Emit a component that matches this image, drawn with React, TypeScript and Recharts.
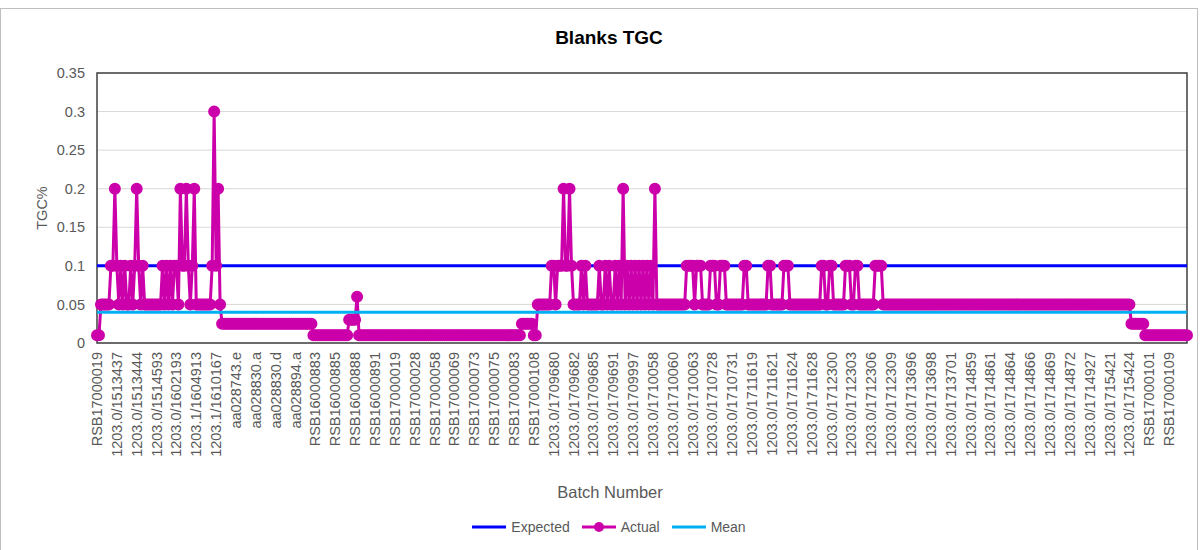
import React from "react";
import { LineChart, Line, XAxis, YAxis, CartesianGrid, Legend, Label, ReferenceArea } from "recharts";

// one label is shown for every 10th batch
const batchLabels = [
  "RSB17000019", "1203.0/1513437", "1203.0/1513444", "1203.0/1514593", "1203.0/1602193",
  "1203.1/1604913", "1203.1/1610167", "aa028743.e", "aa028830.a", "aa028830.d",
  "aa028894.a", "RSB16000883", "RSB16000885", "RSB16000888", "RSB16000891",
  "RSB17000019", "RSB17000028", "RSB17000058", "RSB17000069", "RSB17000073",
  "RSB17000075", "RSB17000083", "RSB17000108", "1203.0/1709680", "1203.0/1709682",
  "1203.0/1709685", "1203.0/1709691", "1203.0/1709997", "1203.0/1710058", "1203.0/1710060",
  "1203.0/1710063", "1203.0/1710728", "1203.0/1710731", "1203.0/1711619", "1203.0/1711621",
  "1203.0/1711624", "1203.0/1711628", "1203.0/1712300", "1203.0/1712303", "1203.0/1712306",
  "1203.0/1712309", "1203.0/1713696", "1203.0/1713698", "1203.0/1713701", "1203.0/1714859",
  "1203.0/1714861", "1203.0/1714864", "1203.0/1714866", "1203.0/1714869", "1203.0/1714872",
  "1203.0/1714927", "1203.0/1715421", "1203.0/1715424", "RSB17000101", "RSB17000109",
];

// TGC% per blank, ten per row (each row starts at the labelled batch)
const actualTGC = [
  0.01, 0.01, 0.05, 0.05, 0.05, 0.05, 0.05, 0.1, 0.1, 0.2,
  0.1, 0.05, 0.1, 0.05, 0.1, 0.05, 0.05, 0.1, 0.05, 0.1,
  0.2, 0.1, 0.05, 0.1, 0.05, 0.05, 0.05, 0.05, 0.05, 0.05,
  0.05, 0.05, 0.05, 0.1, 0.05, 0.1, 0.05, 0.1, 0.05, 0.1,
  0.1, 0.05, 0.2, 0.1, 0.1, 0.2, 0.1, 0.05, 0.1, 0.2,
  0.05, 0.05, 0.05, 0.05, 0.05, 0.05, 0.05, 0.05, 0.1, 0.3,
  0.1, 0.2, 0.05, 0.025, 0.025, 0.025, 0.025, 0.025, 0.025, 0.025,
  0.025, 0.025, 0.025, 0.025, 0.025, 0.025, 0.025, 0.025, 0.025, 0.025,
  0.025, 0.025, 0.025, 0.025, 0.025, 0.025, 0.025, 0.025, 0.025, 0.025,
  0.025, 0.025, 0.025, 0.025, 0.025, 0.025, 0.025, 0.025, 0.025, 0.025,
  0.025, 0.025, 0.025, 0.025, 0.025, 0.025, 0.025, 0.025, 0.025, 0.01,
  0.01, 0.01, 0.01, 0.01, 0.01, 0.01, 0.01, 0.01, 0.01, 0.01,
  0.01, 0.01, 0.01, 0.01, 0.01, 0.01, 0.01, 0.03, 0.03, 0.03,
  0.03, 0.06, 0.01, 0.01, 0.01, 0.01, 0.01, 0.01, 0.01, 0.01,
  0.01, 0.01, 0.01, 0.01, 0.01, 0.01, 0.01, 0.01, 0.01, 0.01,
  0.01, 0.01, 0.01, 0.01, 0.01, 0.01, 0.01, 0.01, 0.01, 0.01,
  0.01, 0.01, 0.01, 0.01, 0.01, 0.01, 0.01, 0.01, 0.01, 0.01,
  0.01, 0.01, 0.01, 0.01, 0.01, 0.01, 0.01, 0.01, 0.01, 0.01,
  0.01, 0.01, 0.01, 0.01, 0.01, 0.01, 0.01, 0.01, 0.01, 0.01,
  0.01, 0.01, 0.01, 0.01, 0.01, 0.01, 0.01, 0.01, 0.01, 0.01,
  0.01, 0.01, 0.01, 0.01, 0.01, 0.01, 0.01, 0.01, 0.01, 0.01,
  0.01, 0.01, 0.01, 0.01, 0.025, 0.025, 0.025, 0.025, 0.025, 0.025,
  0.01, 0.01, 0.05, 0.05, 0.05, 0.05, 0.05, 0.05, 0.05, 0.1,
  0.1, 0.05, 0.1, 0.1, 0.1, 0.2, 0.1, 0.1, 0.2, 0.1,
  0.05, 0.05, 0.05, 0.05, 0.1, 0.05, 0.1, 0.05, 0.05, 0.05,
  0.05, 0.05, 0.05, 0.1, 0.05, 0.05, 0.1, 0.05, 0.1, 0.05,
  0.05, 0.1, 0.05, 0.1, 0.05, 0.2, 0.05, 0.1, 0.05, 0.1,
  0.05, 0.1, 0.05, 0.1, 0.05, 0.1, 0.05, 0.1, 0.05, 0.1,
  0.05, 0.2, 0.05, 0.05, 0.05, 0.05, 0.05, 0.05, 0.05, 0.05,
  0.05, 0.05, 0.05, 0.05, 0.05, 0.05, 0.05, 0.1, 0.1, 0.1,
  0.1, 0.05, 0.1, 0.1, 0.1, 0.05, 0.05, 0.05, 0.05, 0.1,
  0.1, 0.1, 0.05, 0.05, 0.1, 0.1, 0.1, 0.05, 0.05, 0.05,
  0.05, 0.05, 0.05, 0.05, 0.05, 0.05, 0.1, 0.1, 0.05, 0.05,
  0.05, 0.05, 0.05, 0.05, 0.05, 0.05, 0.05, 0.05, 0.1, 0.1,
  0.05, 0.05, 0.05, 0.05, 0.05, 0.05, 0.1, 0.1, 0.1, 0.05,
  0.05, 0.05, 0.05, 0.05, 0.05, 0.05, 0.05, 0.05, 0.05, 0.05,
  0.05, 0.05, 0.05, 0.05, 0.05, 0.1, 0.1, 0.05, 0.05, 0.1,
  0.1, 0.05, 0.05, 0.05, 0.05, 0.05, 0.05, 0.1, 0.1, 0.1,
  0.05, 0.05, 0.1, 0.1, 0.05, 0.05, 0.05, 0.05, 0.05, 0.05,
  0.05, 0.05, 0.1, 0.1, 0.1, 0.1, 0.05, 0.05, 0.05, 0.05,
  0.05, 0.05, 0.05, 0.05, 0.05, 0.05, 0.05, 0.05, 0.05, 0.05,
  0.05, 0.05, 0.05, 0.05, 0.05, 0.05, 0.05, 0.05, 0.05, 0.05,
  0.05, 0.05, 0.05, 0.05, 0.05, 0.05, 0.05, 0.05, 0.05, 0.05,
  0.05, 0.05, 0.05, 0.05, 0.05, 0.05, 0.05, 0.05, 0.05, 0.05,
  0.05, 0.05, 0.05, 0.05, 0.05, 0.05, 0.05, 0.05, 0.05, 0.05,
  0.05, 0.05, 0.05, 0.05, 0.05, 0.05, 0.05, 0.05, 0.05, 0.05,
  0.05, 0.05, 0.05, 0.05, 0.05, 0.05, 0.05, 0.05, 0.05, 0.05,
  0.05, 0.05, 0.05, 0.05, 0.05, 0.05, 0.05, 0.05, 0.05, 0.05,
  0.05, 0.05, 0.05, 0.05, 0.05, 0.05, 0.05, 0.05, 0.05, 0.05,
  0.05, 0.05, 0.05, 0.05, 0.05, 0.05, 0.05, 0.05, 0.05, 0.05,
  0.05, 0.05, 0.05, 0.05, 0.05, 0.05, 0.05, 0.05, 0.05, 0.05,
  0.05, 0.05, 0.05, 0.05, 0.05, 0.05, 0.05, 0.05, 0.05, 0.05,
  0.05, 0.025, 0.025, 0.025, 0.025, 0.025, 0.025, 0.025, 0.01, 0.01,
  0.01, 0.01, 0.01, 0.01, 0.01, 0.01, 0.01, 0.01, 0.01, 0.01,
  0.01, 0.01, 0.01, 0.01, 0.01, 0.01, 0.01, 0.01, 0.01, 0.01,
];

const expectedTGC = 0.1;
const meanTGC = 0.04;
const yTicks = [0, 0.05, 0.1, 0.15, 0.2, 0.25, 0.3, 0.35];

const LABEL_STEP = 10;
const FONT = '"Liberation Sans", Arial, sans-serif';
const TEXT_GREY = "#595959";
const FRAME = "#404040";

const BLUE = "#0000ff";
const MAGENTA = "#cc00aa";
const CYAN = "#00b0f0";

const legendItems = [
  { name: "Expected", color: BLUE, marker: false },
  { name: "Actual", color: MAGENTA, marker: true },
  { name: "Mean", color: CYAN, marker: false },
];

const data = actualTGC.map((v, i) => ({
  idx: i,
  actual: v,
  expected: expectedTGC,
  mean: meanTGC,
}));

function BatchTick(props: any) {
  const { x, y, payload } = props;
  const i = payload.value;
  if (i % LABEL_STEP !== 0) return <g />;
  const text = batchLabels[i / LABEL_STEP];
  return (
    <text
      x={x}
      y={y}
      transform={`rotate(-90 ${x} ${y})`}
      textAnchor="end"
      dominantBaseline="central"
      fill={TEXT_GREY}
      fontSize={14.5}
      fontFamily={FONT}
    >
      {text}
    </text>
  );
}

function ChartLegend() {
  return (
    <div
      style={{
        display: "flex",
        justifyContent: "center",
        alignItems: "center",
        height: 36,
        marginLeft: -6,
        fontFamily: FONT,
        fontSize: 14,
        color: TEXT_GREY,
      }}
    >
      {legendItems.map((s) => (
        <span key={s.name} style={{ display: "flex", alignItems: "center", margin: "0 6px" }}>
          <svg width={34} height={14}>
            <line x1={0} y1={7} x2={34} y2={7} stroke={s.color} strokeWidth={3} />
            {s.marker && <circle cx={17} cy={7} r={5} fill={s.color} />}
          </svg>
          <span style={{ marginLeft: 5 }}>{s.name}</span>
        </span>
      ))}
    </div>
  );
}

export default function App() {
  const lastIdx = actualTGC.length - 1;
  return (
    <div
      style={{
        position: "absolute",
        left: 0,
        top: 8,
        width: 1196,
        height: 541,
        border: "1px solid #bfbfbf",
        background: "#fff",
      }}
    >
      <div
        style={{
          position: "absolute",
          top: 18,
          left: 0,
          width: "100%",
          paddingLeft: 20,
          boxSizing: "border-box",
          textAlign: "center",
          fontFamily: FONT,
          fontWeight: "bold",
          fontSize: 19,
          lineHeight: "22px",
          color: "#000",
        }}
      >
        Blanks TGC
      </div>
      <LineChart width={1196} height={541} data={data} margin={{ top: 64, right: 10, left: 36, bottom: 5 }}>
        <CartesianGrid vertical={false} stroke="#d9d9d9" />
        <XAxis
          dataKey="idx"
          type="category"
          interval={0}
          tickLine={false}
          tickSize={0}
          tickMargin={9}
          tick={<BatchTick />}
          height={166}
          axisLine={false}
        >
          <Label
            value="Batch Number"
            position="insideBottom"
            offset={11}
            dx={-32}
            style={{ fill: TEXT_GREY, fontSize: 16.5, fontFamily: FONT }}
          />
        </XAxis>
        <YAxis
          domain={[0, 0.35]}
          ticks={yTicks}
          width={60}
          tickLine={false}
          tickSize={0}
          tickMargin={12}
          axisLine={false}
          tick={{ fill: TEXT_GREY, fontSize: 14.5, fontFamily: FONT }}
        >
          <Label
            value="TGC%"
            angle={-90}
            position="insideLeft"
            offset={5}
            style={{ textAnchor: "middle", fill: TEXT_GREY, fontSize: 14.5, fontFamily: FONT }}
          />
        </YAxis>
        <Legend verticalAlign="bottom" height={36} content={<ChartLegend />} />
        <ReferenceArea
          x1={0}
          x2={lastIdx}
          y1={0}
          y2={0.35}
          fill="none"
          fillOpacity={0}
          stroke={FRAME}
          strokeWidth={1.5}
          ifOverflow="visible"
        />
        <Line
          dataKey="expected"
          name="Expected"
          stroke={BLUE}
          strokeWidth={3}
          dot={false}
          activeDot={false}
          isAnimationActive={false}
        />
        <Line
          dataKey="actual"
          name="Actual"
          stroke={MAGENTA}
          strokeWidth={3}
          dot={{ r: 5, fill: MAGENTA, stroke: MAGENTA, strokeWidth: 2 }}
          activeDot={false}
          isAnimationActive={false}
        />
        <Line
          dataKey="mean"
          name="Mean"
          stroke={CYAN}
          strokeWidth={3}
          dot={false}
          activeDot={false}
          isAnimationActive={false}
        />
      </LineChart>
    </div>
  );
}
